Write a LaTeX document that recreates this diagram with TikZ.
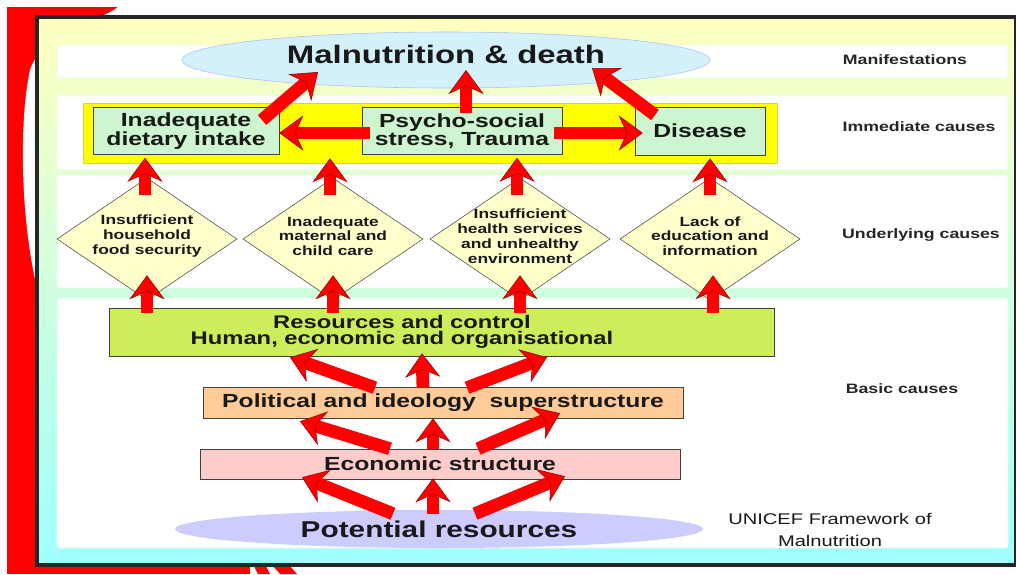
\documentclass[tikz,border=0pt]{standalone}
\usepackage{fontspec}
\setmainfont{Liberation Sans}[FakeStretch=1.3]
\usepackage{tikz}
\usetikzlibrary{arrows.meta,positioning,calc,shapes.geometric}
\usepackage{xcolor}
\definecolor{ufred}{HTML}{FF0000}
\definecolor{ufbgtop}{HTML}{FFFFC0}
\definecolor{ufbgbot}{HTML}{9FFFFF}
\definecolor{ufyellow}{HTML}{FFFF00}
\definecolor{ufyedge}{HTML}{D8D050}
\definecolor{ufmint}{HTML}{CCF5D0}
\definecolor{ufsky}{HTML}{D4F0FA}
\definecolor{ufcream}{HTML}{FFFFCC}
\definecolor{uflime}{HTML}{CCEE5C}
\definecolor{ufpeach}{HTML}{FFCC99}
\definecolor{ufpink}{HTML}{FFCCCC}
\definecolor{uflilac}{HTML}{CCCCFF}
\tikzset{
  ufbox/.style={draw=black!75, rectangle, inner sep=0pt, align=center, text=black!90,
    font=\bfseries\fontsize{13.5}{12}\selectfont},
  ufoval/.style={ellipse, inner sep=0pt, text=black!90},
  ufdiamond/.style={diamond, draw=black!70, fill=ufcream, inner sep=0pt,
    minimum width=4.5cm, minimum height=3.05cm},
  ufdtext/.style={align=center, yshift=2pt, text=black!90,
    font=\bfseries\fontsize{9.5}{10.6}\selectfont},
  ufarrow/.style={-{Stealth[length=0.6cm, width=0.88cm, inset=0.2cm,
    color=ufred!60!black, fill=ufred, line width=0.4pt]}, draw=ufred, line width=0.32cm},
  ufband/.style={fill=white, draw=green!12, rounded corners=2pt},
  uflabel/.style={font=\bfseries\fontsize{9.7}{11}\selectfont, text=black!85},
}
\begin{document}
\begin{tikzpicture}[x=0.025cm, y=-0.025cm]
  \useasboundingbox (0,0) rectangle (1016,574);
  % slide background
  \fill[ufred] (7,7) rectangle (118,20);
  \fill[ufred] (7,7) rectangle (40,574);
  \fill[ufred] (7,558) rectangle (250,574);
  \fill[ufred] (254,566) -- (266,566) -- (270,574) -- (258,574) -- cycle;
  \fill[ufred] (273,566) -- (290,566) -- (297,574) -- (280,574) -- cycle;
  \fill[white] (118,7) .. controls (100,22) and (45,28) .. (30,70)
    .. controls (19,120) and (20,220) .. (38,292) -- (300,292) -- (300,7) -- cycle;
  \draw[line width=2.2pt, draw=black!85, top color=ufbgtop, bottom color=ufbgbot]
    (37,17) rectangle (1016,565);

  % bands
  \draw[ufband] (57,45) rectangle (1008,78);
  \draw[ufband] (57,95) rectangle (1008,170);
  \draw[ufband] (57,175) rectangle (1008,288);
  \draw[ufband] (57,298) rectangle (1008,548);

  % manifestations and immediate causes
  \node[ufbox, fill=ufyellow, draw=ufyedge, minimum width=17.35cm, minimum height=1.5cm]
    (immband) at (430,133) {};
  \node[ufoval, fill=ufsky, draw=ufsky!80!blue, minimum width=13.2cm, minimum height=1.4cm,
    text height=13pt, text depth=8pt, font=\bfseries\fontsize{18}{20}\selectfont]
    (malnut) at (446,60) {Malnutrition \& death};
  \node[ufbox, fill=ufmint, minimum width=4.65cm, minimum height=1.175cm]
    (dietary) at (186,131) {Inadequate\\dietary intake};
  \node[ufbox, fill=ufmint, minimum width=5cm, minimum height=1.175cm]
    (psycho) at (462,131) {Psycho-social\\stress, Trauma};
  \node[ufbox, fill=ufmint, minimum width=3.25cm, minimum height=1.2cm]
    (disease) at (700,131) {Disease};

  % underlying causes
  \node[ufdiamond, label={[ufdtext]center:{Insufficient\\household\\food security}}]
    (d1) at (147,239) {};
  \node[ufdiamond, label={[ufdtext]center:{Inadequate\\maternal and\\child care}}]
    (d2) at (333,239) {};
  \node[ufdiamond, label={[ufdtext]center:{Insufficient\\health services\\and unhealthy\\environment}}]
    (d3) at (520,239) {};
  \node[ufdiamond, label={[ufdtext]center:{Lack of\\education and\\information}}]
    (d4) at (710,239) {};

  % basic causes
  \node[ufbox, fill=uflime, minimum width=16.625cm, minimum height=1.2cm,
    label={[align=center, xshift=-1cm, text=black!90, font=\bfseries\fontsize{13}{11.5}\selectfont]center:{Resources and control\\Human, economic and organisational}}]
    (res) at (442,332) {};
  \node[ufbox, fill=ufpeach, minimum width=12cm, minimum height=0.775cm]
    (pol) at (443,402.5) {Political and ideology \ superstructure};
  \node[ufbox, fill=ufpink, minimum width=12cm, minimum height=0.75cm]
    (econ) at (440,464) {Economic structure};
  \node[ufoval, fill=uflilac, minimum width=13.2cm, minimum height=0.95cm,
    font=\bfseries\fontsize{16.3}{18}\selectfont]
    (pot) at (439,529) {Potential resources};

  % level labels
  \node[uflabel] (lman) at (905,60) {Manifestations};
  \node[uflabel] (limm) at (919,127) {Immediate causes};
  \node[uflabel] (lund) at (921,235) {Underlying causes};
  \node[uflabel] (lbas) at (902,389) {Basic causes};
  \node[align=center, text=black!90, font=\fontsize{11}{15}\selectfont]
    (unicef) at (830,530) {UNICEF Framework of\\Malnutrition};

  % arrows to manifestations
  \draw[ufarrow] ($(dietary)+(76,-11)$) -- ($(malnut)+(-128,12)$);
  \draw[ufarrow] ($(psycho)+(4,-18)$) -- ($(malnut)+(20,10)$);
  \draw[ufarrow] ($(disease)+(-45,-16)$) -- ($(malnut)+(146,8)$);
  \draw[ufarrow] ($(psycho.west)+(8,2)$) -- ($(dietary.east)+(0,2)$);
  \draw[ufarrow] ($(psycho.east)+(-8,2)$) -- ($(disease.west)+(8,2)$);

  % underlying -> immediate
  \draw[ufarrow] ($(d1.north)+(-2,17)$) -- ($(d1.north |- dietary.south)+(-2,3)$);
  \draw[ufarrow] ($(d2.north)+(-3,17)$) -- ($(d2.north |- immband.south)+(-3,-5)$);
  \draw[ufarrow] ($(d3.north)+(-3,17)$) -- ($(d3.north |- psycho.south)+(-3,3)$);
  \draw[ufarrow] ($(d4.north)+(0,17)$) -- ($(d4.north |- disease.south)+(0,3)$);

  % basic -> underlying
  \draw[ufarrow] ($(d1.south |- res.north)+(0,5)$) -- ($(d1.south)+(0,-25)$);
  \draw[ufarrow] ($(d2.south |- res.north)+(0,5)$) -- ($(d2.south)+(0,-25)$);
  \draw[ufarrow] ($(d3.south |- res.north)+(0,5)$) -- ($(d3.south)+(0,-25)$);
  \draw[ufarrow] ($(d4.south |- res.north)+(3,5)$) -- ($(d4.south)+(3,-25)$);

  % within basic causes
  \draw[ufarrow] ($(pol.north)+(-68,1)$) -- ($(res.south)+(-152,1)$);
  \draw[ufarrow] ($(pol.north)+(-20,1)$) -- ($(res.south)+(-20,-3)$);
  \draw[ufarrow] ($(pol.north)+(24,1)$) -- ($(res.south)+(105,1)$);
  \draw[ufarrow] ($(econ.north)+(-50,0)$) -- ($(pol.south)+(-143,3)$);
  \draw[ufarrow] ($(econ.north)+(-7,0)$) -- ($(pol.south)+(-10,0)$);
  \draw[ufarrow] ($(econ.north)+(38,0)$) -- ($(pol.south)+(117,-5)$);
  \draw[ufarrow] ($(pot.north)+(-46,4)$) -- ($(econ.south)+(-138,-2)$);
  \draw[ufarrow] ($(pot.north)+(-6,4)$) -- ($(econ.south)+(-7,-1)$);
  \draw[ufarrow] ($(pot.north)+(36,4)$) -- ($(econ.south)+(125,-3)$);
\end{tikzpicture}
\end{document}
